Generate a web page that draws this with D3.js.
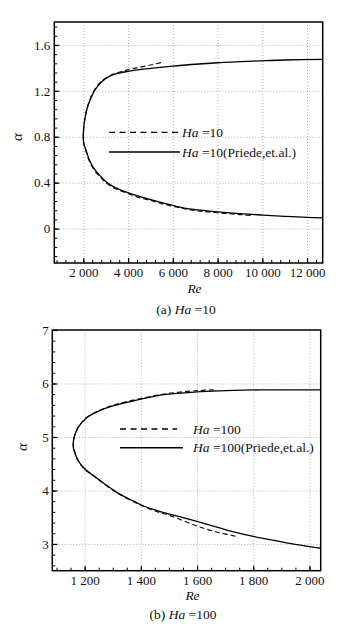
<!DOCTYPE html>
<html>
<head>
<meta charset="utf-8">
<script src="https://cdn.jsdelivr.net/npm/d3@7"></script>
<style>
  body { margin: 0; background: #fff; }
  svg { display: block; background: #fff; }
  svg text { font-family: "Liberation Serif", "DejaVu Serif", serif; }
</style>
</head>
<body>
<div id="chart"></div>
<script>

// (a) Ha = 10 : [Re, alpha] along the neutral curve, upper branch first
var priede10 = [[12700,1.475],[11000,1.469],[9900,1.461],[8000,1.445],[7000,1.432],[6000,1.415],
	[5000,1.396],[4500,1.385],[4000,1.37],[3600,1.355],[3250,1.335],[2820,1.28],[2520,1.208],
	[2300,1.12],[2150,1.033],[2060,0.946],[2010,0.87],[1995,0.80],[2015,0.74],[2117,0.685],
	[2266,0.598],[2520,0.511],[2800,0.45],[3000,0.41],[3300,0.37],[3860,0.322],[4531,0.278],
	[5000,0.252],[5500,0.226],[6000,0.202],[6600,0.176],[7200,0.16],[8000,0.145],[9000,0.13],
	[10000,0.118],[11000,0.107],[12000,0.098],[12700,0.093]];

var present10 = [[5470,1.446],[5000,1.425],[4500,1.405],[4000,1.385],[3600,1.362],[3250,1.338],
	[2820,1.285],[2520,1.215],[2300,1.13],[2150,1.04],[2060,0.95],[2015,0.87],[2000,0.80],
	[2020,0.74],[2110,0.68],[2260,0.59],[2520,0.50],[2800,0.44],[3000,0.40],[3300,0.36],
	[3860,0.315],[4500,0.27],[5000,0.245],[5500,0.218],[6000,0.195],[6600,0.17],[7200,0.152],
	[8000,0.138],[9000,0.122],[9500,0.114]];

// (b) Ha = 100
var priede100 = [[2040,5.88],[1824,5.88],[1700,5.865],[1600,5.845],[1500,5.80],[1460,5.775],
	[1378,5.68],[1307,5.59],[1248,5.48],[1206,5.355],[1176,5.17],[1162,4.98],[1160,4.80],
	[1162,4.757],[1176,4.57],[1198,4.415],[1236,4.26],[1277,4.10],[1319,3.95],[1378,3.79],
	[1414,3.70],[1473,3.60],[1544,3.50],[1600,3.42],[1680,3.30],[1720,3.24],[1800,3.14],
	[1900,3.04],[2000,2.95],[2040,2.92]];

var present100 = [[1660,5.88],[1600,5.865],[1500,5.815],[1400,5.72],[1307,5.60],[1248,5.485],
	[1206,5.36],[1176,5.17],[1162,4.98],[1160,4.80],[1163,4.75],[1177,4.56],[1200,4.40],
	[1240,4.24],[1280,4.08],[1320,3.94],[1378,3.78],[1420,3.68],[1460,3.60],[1504,3.53],
	[1587,3.36],[1634,3.275],[1681,3.21],[1740,3.14]];

var xTicks10 = [2000, 4000, 6000, 8000, 10000, 12000];
var yTicks10 = [0, 0.4, 0.8, 1.2, 1.6];
var xTicks100 = [1200, 1400, 1600, 1800, 2000];
var yTicks100 = [3, 4, 5, 6, 7];

var legend10 = ["=10", "=10(Priede,et.al.)"];
var legend100 = ["=100", "=100(Priede,et.al.)"];

var serif = "Liberation Serif, DejaVu Serif, serif";

function thousands(d){
	// "12 000" style labels
	return d3.format(",")(d).replace(/,/g, " ");
}

function drawPanel(svg, p){

	var xScale = d3.scaleLinear().domain(p.xDomain).range([p.left, p.right]);
	var yScale = d3.scaleLinear().domain(p.yDomain).range([p.bottom, p.top]);
	var w = p.right - p.left;
	var h = p.bottom - p.top;

	// dotted grid
	svg.append("g")
		.attr("transform", "translate(0," + p.bottom + ")")
		.call(d3.axisBottom(xScale).tickValues(p.xTicks).tickSize(-h).tickFormat(""))
		.call(function(g){ g.select(".domain").remove(); })
		.selectAll("line")
		.attr("stroke", "#9a9a9a")
		.attr("stroke-width", 0.8)
		.attr("stroke-dasharray", "1,2");

	svg.append("g")
		.attr("transform", "translate(" + p.left + ",0)")
		.call(d3.axisLeft(yScale).tickValues(p.yTicks.filter(function(d){
			return d > p.yDomain[0] && d < p.yDomain[1];
		})).tickSize(-w).tickFormat(""))
		.call(function(g){ g.select(".domain").remove(); })
		.selectAll("line")
		.attr("stroke", "#9a9a9a")
		.attr("stroke-width", 0.8)
		.attr("stroke-dasharray", "1,2");

	// minor ticks (pointing inward)
	svg.append("g")
		.attr("transform", "translate(0," + p.bottom + ")")
		.call(d3.axisBottom(xScale).tickValues(p.xMinor).tickSizeInner(-3).tickSizeOuter(0).tickFormat(""))
		.call(function(g){ g.select(".domain").remove(); })
		.selectAll("line").attr("stroke", "#000");

	svg.append("g")
		.attr("transform", "translate(" + p.left + ",0)")
		.call(d3.axisLeft(yScale).tickValues(p.yMinor).tickSizeInner(-3).tickSizeOuter(0).tickFormat(""))
		.call(function(g){ g.select(".domain").remove(); })
		.selectAll("line").attr("stroke", "#000");

	// major ticks and labels
	var xAxis = svg.append("g")
		.attr("transform", "translate(0," + p.bottom + ")")
		.call(d3.axisBottom(xScale).tickValues(p.xTicks).tickSizeInner(-5).tickSizeOuter(0)
			.tickPadding(p.xPad).tickFormat(thousands));
	xAxis.select(".domain").remove();
	xAxis.attr("font-size", 13);
	xAxis.selectAll("line").attr("stroke", "#000").attr("stroke-width", 1.2);
	xAxis.selectAll("text").attr("fill", "#111").style("font-family", serif);

	var yAxis = svg.append("g")
		.attr("transform", "translate(" + p.left + ",0)")
		.call(d3.axisLeft(yScale).tickValues(p.yTicks).tickSizeInner(-5).tickSizeOuter(0)
			.tickPadding(p.yPad).tickFormat(d3.format("")));
	yAxis.select(".domain").remove();
	yAxis.attr("font-size", 13);
	yAxis.selectAll("line").attr("stroke", "#000").attr("stroke-width", 1.2);
	yAxis.selectAll("text").attr("fill", "#111").style("font-family", serif);

	// curves
	var clipId = "clip" + p.id;
	svg.append("clipPath").attr("id", clipId)
		.append("rect")
		.attr("x", p.left).attr("y", p.top)
		.attr("width", w).attr("height", h);

	var line = d3.line()
		.x(function(d){ return xScale(d[0]); })
		.y(function(d){ return yScale(d[1]); })
		.curve(d3.curveCatmullRom.alpha(0.5));

	svg.append("path")
		.datum(p.dashed)
		.attr("clip-path", "url(#" + clipId + ")")
		.attr("d", line)
		.attr("fill", "none")
		.attr("stroke", "#111")
		.attr("stroke-width", 1.2)
		.attr("stroke-dasharray", "5,3");

	svg.append("path")
		.datum(p.solid)
		.attr("clip-path", "url(#" + clipId + ")")
		.attr("d", line)
		.attr("fill", "none")
		.attr("stroke", "#000")
		.attr("stroke-width", 1.3);

	// frame
	svg.append("rect")
		.attr("x", p.left).attr("y", p.top)
		.attr("width", w).attr("height", h)
		.attr("fill", "none")
		.attr("stroke", "#000")
		.attr("stroke-width", 1.5);

	// legend
	var lg = svg.append("g").attr("font-size", 13.5).attr("fill", "#111");
	lg.append("line")
		.attr("x1", p.leg.x1).attr("x2", p.leg.x2a)
		.attr("y1", p.leg.y1).attr("y2", p.leg.y1)
		.attr("stroke", "#000").attr("stroke-width", 1.3)
		.attr("stroke-dasharray", "6,4.5");
	lg.append("line")
		.attr("x1", p.leg.x1).attr("x2", p.leg.x2b)
		.attr("y1", p.leg.y2).attr("y2", p.leg.y2)
		.attr("stroke", "#000").attr("stroke-width", 1.5);

	[p.leg.y1, p.leg.y2].forEach(function(yy, i){
		var t = lg.append("text")
			.attr("x", p.leg.tx)
			.attr("y", yy + 4.5);
		t.append("tspan").attr("font-style", "italic").text("Ha");
		t.append("tspan").text(" " + p.legendText[i]);
	});

	// axis titles
	svg.append("text")
		.attr("x", (p.left + p.right) / 2 + 6)
		.attr("y", p.bottom + p.reOff)
		.attr("text-anchor", "middle")
		.attr("font-size", 13.5)
		.attr("font-style", "italic")
		.attr("fill", "#111")
		.text("Re");

	svg.append("text")
		.attr("transform", "translate(" + p.alphaX + "," + p.alphaY + ") rotate(-90)")
		.attr("text-anchor", "middle")
		.attr("font-size", 15)
		.attr("font-style", "italic")
		.attr("fill", "#111")
		.text("α");

	var cap = svg.append("text")
		.attr("x", p.capX)
		.attr("y", p.capY)
		.attr("text-anchor", "middle")
		.attr("font-size", 13.5)
		.attr("fill", "#111");
	cap.append("tspan").text(p.capPrefix + " ");
	cap.append("tspan").attr("font-style", "italic").text("Ha");
	cap.append("tspan").text(" " + p.legendText[0]);
}

function init(){

	var svg = d3.select("#chart")
				.append("svg")
				.attr("width", 348)
				.attr("height", 628);

	drawPanel(svg, {
		id: "a",
		left: 54.3, right: 322.7, top: 22, bottom: 263,
		xDomain: [700, 12700], yDomain: [-0.3, 1.8],
		xTicks: xTicks10, yTicks: yTicks10,
		xMinor: d3.range(800, 12700, 400), yMinor: d3.range(-0.24, 1.8, 0.08),
		xPad: 5, yPad: 4,
		solid: priede10, dashed: present10,
		legendText: legend10,
		leg: { x1: 109, x2a: 180, x2b: 180, y1: 132.3, y2: 152, tx: 182 },
		reOff: 29.5, alphaX: 22, alphaY: 137,
		capX: 186, capY: 313.5, capPrefix: "(a)"
	});

	drawPanel(svg, {
		id: "b",
		left: 52.3, right: 320.7, top: 330, bottom: 570.7,
		xDomain: [1085, 2040], yDomain: [2.5, 7],
		xTicks: xTicks100, yTicks: yTicks100,
		xMinor: d3.range(1100, 2040, 50), yMinor: d3.range(2.6, 7, 0.2),
		xPad: 4.6, yPad: 3.5,
		solid: priede100, dashed: present100,
		legendText: legend100,
		leg: { x1: 120, x2a: 177, x2b: 183, y1: 429, y2: 447.7, tx: 193 },
		reOff: 29, alphaX: 27, alphaY: 447,
		capX: 183, capY: 618.5, capPrefix: "(b)"
	});
}

window.onload = init;
</script>
</body>
</html>
